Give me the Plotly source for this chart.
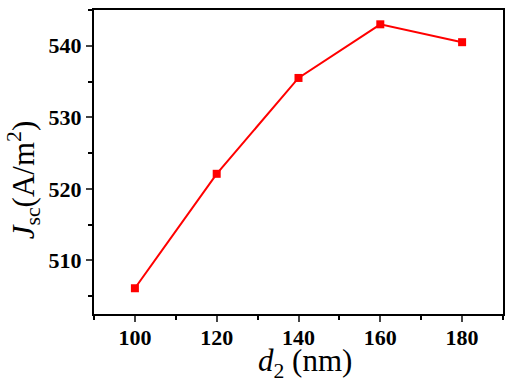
import plotly.graph_objects as go

d2 = [100, 120, 140, 160, 180]
jsc = [506.1, 522.1, 535.5, 543.0, 540.5]
x_ticks = [100, 120, 140, 160, 180]
y_ticks = [510, 520, 530, 540]

fig = go.Figure()
fig.add_trace(go.Scatter(
    x=d2, y=jsc, mode="lines+markers",
    line=dict(color="#ff0000", width=2),
    marker=dict(symbol="square", size=8, color="#ff0000"),
    showlegend=False,
))

tickfont = dict(family="Liberation Serif", size=22, color="black", weight="bold")
titlefont = dict(family="Liberation Serif", size=31, color="black")
fig.update_layout(
    width=512, height=386,
    margin=dict(l=94, r=9, t=10, b=72),
    paper_bgcolor="white", plot_bgcolor="white",
    hovermode=False,
    xaxis=dict(
        range=[90, 190], tickvals=x_ticks, ticks="outside", ticklen=6, tickwidth=2,
        showline=True, linecolor="black", linewidth=2, mirror=True, showgrid=False, zeroline=False,
        tickfont=tickfont, automargin=False, ticklabelstandoff=-3,
        minor=dict(dtick=10, tick0=90, ticks="outside", ticklen=4, tickwidth=2, tickcolor="black"),
    ),
    yaxis=dict(
        range=[502.5, 545], tickvals=y_ticks, ticks="outside", ticklen=6, tickwidth=2,
        showline=True, linecolor="black", linewidth=2, mirror=True, showgrid=False, zeroline=False,
        tickfont=tickfont, automargin=False,
        minor=dict(dtick=5, tick0=500, ticks="outside", ticklen=4, tickwidth=2, tickcolor="black"),
    ),
    annotations=[
        dict(text="<i>d</i><sub>2</sub> (nm)", xref="paper", yref="paper", x=0.516, y=0,
             xanchor="center", yanchor="middle", yshift=-49, showarrow=False, font=titlefont),
        dict(text="<i>J</i><sub>sc</sub>(A/m<sup>2</sup>)", xref="paper", yref="paper", x=0, y=0.44,
             xanchor="center", yanchor="middle", xshift=-70, textangle=-90, showarrow=False, font=titlefont),
    ],
)
fig.write_html("out.html", config={"displayModeBar": False},
               post_script="document.body.style.margin='0';")
